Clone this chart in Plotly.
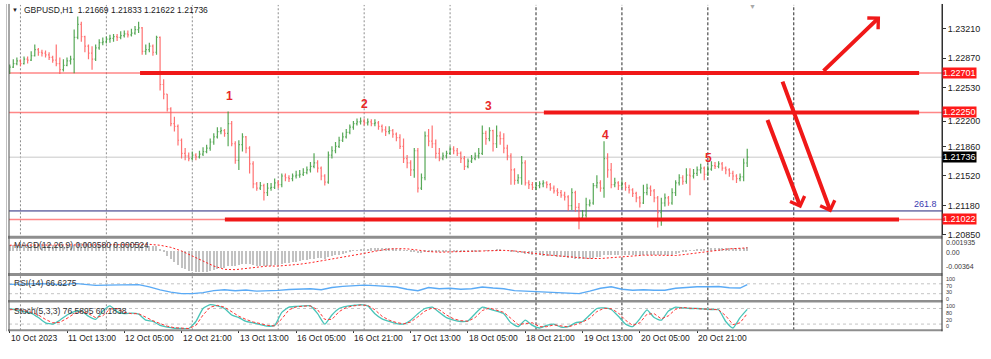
import plotly.graph_objects as go

W, H = 991, 359

# ---------------- data ----------------
first_open = 1.2272
closes = [
 1.2277, 1.2281, 1.2284, 1.2281, 1.2286, 1.2285, 1.2290, 1.2297, 1.2294, 1.2293,
 1.2291, 1.2288, 1.2285, 1.2281, 1.2274, 1.2279, 1.2284, 1.2286, 1.2311, 1.2326,
 1.2312, 1.2301, 1.2293, 1.2286, 1.2299, 1.2305, 1.2306, 1.2309, 1.2310, 1.2312,
 1.2311, 1.2313, 1.2315, 1.2314, 1.2316, 1.2320, 1.2322, 1.2295, 1.2297, 1.2301,
 1.2294, 1.2311, 1.2257, 1.2246, 1.2229, 1.2212, 1.2209, 1.2193, 1.2178, 1.2175,
 1.2172, 1.2176, 1.2174, 1.2177, 1.2180, 1.2184, 1.2191, 1.2197, 1.2203, 1.2204,
 1.2201, 1.2212, 1.2189, 1.2170, 1.2188, 1.2197, 1.2184, 1.2166, 1.2143, 1.2138,
 1.2141, 1.2133, 1.2138, 1.2139, 1.2144, 1.2142, 1.2152, 1.2150, 1.2149, 1.2152,
 1.2153, 1.2154, 1.2156, 1.2159, 1.2163, 1.2167, 1.2161, 1.2152, 1.2145, 1.2176,
 1.2181, 1.2186, 1.2193, 1.2197, 1.2202, 1.2208, 1.2212, 1.2214, 1.2215, 1.2213,
 1.2214, 1.2212, 1.2213, 1.2209, 1.2205, 1.2203, 1.2204, 1.2200, 1.2196, 1.2186,
 1.2172, 1.2167, 1.2159, 1.2181, 1.2138, 1.2150, 1.2198, 1.2192, 1.2189, 1.2178,
 1.2172, 1.2175, 1.2178, 1.2183, 1.2181, 1.2178, 1.2172, 1.2163, 1.2169, 1.2172,
 1.2175, 1.2178, 1.2201, 1.2195, 1.2204, 1.2189, 1.2198, 1.2195, 1.2184, 1.2175,
 1.2159, 1.2147, 1.2150, 1.2167, 1.2144, 1.2142, 1.2139, 1.2141, 1.2143, 1.2144,
 1.2142, 1.2138, 1.2135, 1.2133, 1.2130, 1.2128, 1.2118, 1.2133, 1.2116, 1.2104,
 1.2107, 1.2119, 1.2121, 1.2141, 1.2144, 1.2138, 1.2172, 1.2159, 1.2142, 1.2144,
 1.2141, 1.2143, 1.2139, 1.2136, 1.2132, 1.2127, 1.2121, 1.2133, 1.2138, 1.2135,
 1.2127, 1.2110, 1.2121, 1.2127, 1.2121, 1.2133, 1.2144, 1.2150, 1.2146, 1.2153,
 1.2152, 1.2155, 1.2159, 1.2161, 1.2154, 1.2160, 1.2164, 1.2163, 1.2166, 1.2161,
 1.2159, 1.2155, 1.2152, 1.2149, 1.2151, 1.21669, 1.21736]
highs = [
 1.2280, 1.2286, 1.2288, 1.2286, 1.2289, 1.2289, 1.2295, 1.2303, 1.2299, 1.2297,
 1.2296, 1.2294, 1.2290, 1.2303, 1.2288, 1.2286, 1.2288, 1.2290, 1.2320, 1.2335,
 1.2329, 1.2313, 1.2303, 1.2301, 1.2303, 1.2309, 1.2311, 1.2312, 1.2314, 1.2315,
 1.2315, 1.2318, 1.2319, 1.2319, 1.2321, 1.2324, 1.2329, 1.2323, 1.2303, 1.2305,
 1.2303, 1.2313, 1.2312, 1.2263, 1.2246, 1.2231, 1.2220, 1.2211, 1.2195, 1.2184,
 1.2179, 1.2180, 1.2178, 1.2181, 1.2185, 1.2188, 1.2195, 1.2201, 1.2208, 1.2208,
 1.2206, 1.2226, 1.2215, 1.2192, 1.2193, 1.2201, 1.2198, 1.2186, 1.2169, 1.2145,
 1.2145, 1.2143, 1.2144, 1.2144, 1.2149, 1.2147, 1.2155, 1.2155, 1.2153, 1.2155,
 1.2158, 1.2159, 1.2161, 1.2163, 1.2168, 1.2178, 1.2170, 1.2163, 1.2154, 1.2180,
 1.2186, 1.2191, 1.2197, 1.2202, 1.2206, 1.2211, 1.2215, 1.2218, 1.2219, 1.2218,
 1.2218, 1.2217, 1.2217, 1.2215, 1.2211, 1.2209, 1.2209, 1.2206, 1.2202, 1.2200,
 1.2195, 1.2176, 1.2170, 1.2184, 1.2184, 1.2155, 1.2203, 1.2206, 1.2210, 1.2194,
 1.2184, 1.2179, 1.2181, 1.2186, 1.2186, 1.2184, 1.2180, 1.2175, 1.2172, 1.2176,
 1.2179, 1.2184, 1.2210, 1.2204, 1.2208, 1.2205, 1.2210, 1.2203, 1.2201, 1.2188,
 1.2178, 1.2161, 1.2154, 1.2175, 1.2170, 1.2147, 1.2145, 1.2145, 1.2146, 1.2147,
 1.2146, 1.2144, 1.2141, 1.2138, 1.2136, 1.2134, 1.2130, 1.2138, 1.2135, 1.2121,
 1.2113, 1.2127, 1.2125, 1.2144, 1.2153, 1.2147, 1.2192, 1.2178, 1.2167, 1.2150,
 1.2146, 1.2147, 1.2145, 1.2142, 1.2138, 1.2134, 1.2129, 1.2142, 1.2143, 1.2141,
 1.2137, 1.2129, 1.2127, 1.2132, 1.2129, 1.2138, 1.2147, 1.2154, 1.2153, 1.2161,
 1.2161, 1.2160, 1.2163, 1.2166, 1.2163, 1.2164, 1.2169, 1.2168, 1.2169, 1.2168,
 1.2163, 1.2161, 1.2158, 1.2154, 1.2155, 1.2172, 1.21833]
lows = [
 1.2269, 1.2276, 1.2279, 1.2278, 1.2280, 1.2281, 1.2284, 1.2289, 1.2290, 1.2289,
 1.2288, 1.2285, 1.2282, 1.2278, 1.2269, 1.2272, 1.2278, 1.2280, 1.2270, 1.2309,
 1.2306, 1.2294, 1.2286, 1.2274, 1.2284, 1.2297, 1.2302, 1.2304, 1.2305, 1.2306,
 1.2307, 1.2309, 1.2311, 1.2311, 1.2312, 1.2314, 1.2316, 1.2291, 1.2291, 1.2294,
 1.2290, 1.2291, 1.2250, 1.2240, 1.2226, 1.2209, 1.2203, 1.2187, 1.2172, 1.2170,
 1.2169, 1.2170, 1.2170, 1.2172, 1.2175, 1.2178, 1.2181, 1.2188, 1.2195, 1.2200,
 1.2197, 1.2186, 1.2186, 1.2166, 1.2159, 1.2180, 1.2178, 1.2155, 1.2138, 1.2135,
 1.2136, 1.2124, 1.2129, 1.2135, 1.2137, 1.2138, 1.2139, 1.2146, 1.2145, 1.2146,
 1.2149, 1.2150, 1.2152, 1.2154, 1.2156, 1.2161, 1.2156, 1.2147, 1.2141, 1.2143,
 1.2172, 1.2178, 1.2184, 1.2191, 1.2195, 1.2200, 1.2205, 1.2210, 1.2211, 1.2210,
 1.2210, 1.2209, 1.2209, 1.2205, 1.2202, 1.2198, 1.2200, 1.2196, 1.2192, 1.2183,
 1.2167, 1.2161, 1.2152, 1.2150, 1.2133, 1.2136, 1.2147, 1.2186, 1.2184, 1.2172,
 1.2169, 1.2170, 1.2172, 1.2176, 1.2177, 1.2175, 1.2167, 1.2159, 1.2161, 1.2167,
 1.2170, 1.2172, 1.2176, 1.2188, 1.2192, 1.2180, 1.2184, 1.2188, 1.2178, 1.2170,
 1.2142, 1.2142, 1.2143, 1.2142, 1.2141, 1.2137, 1.2136, 1.2136, 1.2138, 1.2139,
 1.2138, 1.2135, 1.2132, 1.2129, 1.2127, 1.2124, 1.2112, 1.2113, 1.2111, 1.2091,
 1.2102, 1.2104, 1.2117, 1.2119, 1.2138, 1.2134, 1.2127, 1.2150, 1.2138, 1.2139,
 1.2136, 1.2138, 1.2135, 1.2132, 1.2128, 1.2122, 1.2116, 1.2120, 1.2130, 1.2129,
 1.2122, 1.2093, 1.2095, 1.2117, 1.2118, 1.2119, 1.2129, 1.2141, 1.2142, 1.2143,
 1.2130, 1.2149, 1.2152, 1.2155, 1.2147, 1.2152, 1.2158, 1.2160, 1.2161, 1.2158,
 1.2154, 1.2151, 1.2147, 1.2144, 1.2146, 1.2146, 1.21622]
opens = [first_open] + closes[:-1]
bar_idx = list(range(len(closes)))

# MACD(12,26,9) main, in units of 1e-4
macd_main_e4 = [
 9, 9, 9.5, 9.5, 10, 10, 10.5, 11, 11, 11, 11, 10.5, 10, 9.5, 9, 8.5, 8.5, 8.5,
 10, 12, 12.5, 12, 11, 10, 10, 10, 10, 10, 10, 10.5, 10.5, 10.5, 11, 11, 11, 11.5, 12,
 10.5, 9, 8, 7, 7.5,
 3, -3, -9, -14, -19, -24, -28, -31, -33, -34.5, -35.5, -36, -36, -35.5,
 -34, -32.5, -31, -29.5, -28, -26,
 -25, -25, -24, -22.5, -22, -22.5, -24, -25, -25.5, -26, -26, -25.5, -24.5, -23.5,
 -22, -21, -20, -19, -18, -17, -16, -15, -14, -13, -12.5, -12.5, -13,
 -11, -9.5, -8, -6.5, -5, -3.5, -2, -0.5, 1, 2, 3, 3.5, 4, 4.5, 4.5, 4.5, 4.5, 4.5, 4, 3.5, 2.5, 1,
 -0.5, -2, -2, -3.5, -4, -2.5, -1.5, -1, -1, -1.5, -1.5, -1.5, -1, -1, -1, -1.5, -2, -2, -2,
 -1.5, -1.5, 0, 0.5, 1, 1, 1.5, 1.5, 1, 0,
 -1.5, -3, -4, -4, -5, -6, -7, -7.5, -8, -8.5, -8.5, -9, -9.5, -10, -10.5, -11, -12, -12, -13,
 -14, -14.5, -14, -13.5, -12, -11, -10.5,
 -8, -7, -7.5, -7, -7, -6.5, -6.5, -6.5, -7, -7.5, -8, -7.5, -7, -7, -7, -8, -8, -8, -8, -7,
 -5.5, -4, -3, -1.5, -0.5, 0.5, 1.5, 2.5, 3, 3.5, 4, 4.5, 5, 5, 5, 5, 4.5, 4, 4, 4.5, 5.8]
macd_signal_idx = list(range(0, 205, 3)) + [206]
macd_signal_e4 = [
 9.5, 9.5, 9.5, 10, 10.5, 10, 9.5, 10, 10.5, 10.5, 10.5, 10.5, 11, 11,
 9.5, 6, 0, -8, -17, -25, -30.5, -31, -29, -27, -25, -25, -24, -22, -19.5, -16.5,
 -14, -11, -7.5, -4, -0.5, 2.5, 4, 3.5, 1.5, -1, -2, -1.5, -1.5, -1.5, -1, 0, 1, 0,
 -2.5, -4.5, -6.5, -8, -9.5, -11, -12.5, -12.5, -11, -9, -7.5, -7, -7, -7.5, -7.5,
 -5.5, -3, -0.5, 2, 3.5, 4.5, 5.24]
macd_main = [v * 1e-4 for v in macd_main_e4]
macd_signal = [v * 1e-4 for v in macd_signal_e4]

# RSI(14), every 3rd bar
rsi_idx = list(range(0, 205, 3)) + [206]
rsi_vals = [
 68, 70, 72, 71, 69, 66, 72, 67, 64, 65,
 65, 66, 67, 58, 45, 36, 30, 30, 34, 42,
 46, 42, 45, 40, 41, 43, 47, 48, 50, 46,
 55, 60, 64, 65, 63, 60, 57, 48, 42, 55,
 50, 52, 48, 50, 57, 53, 50, 42, 40, 38,
 38, 36, 33, 30, 40, 52, 58, 48, 44, 46,
 44, 44, 52, 56, 58, 58, 59, 54, 53,
 66.63]

# Stochastic(5,3,3), every 2nd bar
stoch_idx = list(range(0, 207, 2))
stoch_main = [
 78, 75, 68, 62, 45, 25, 20, 35, 55, 68,
 70, 50, 38, 70, 90, 68, 60, 62, 58, 35,
 30, 15, 8, 4, 3, 3, 30, 80, 95, 90,
 80, 55, 45, 30, 25, 18, 12, 15, 65, 85,
 88, 90, 90, 60, 20, 55, 80, 88, 92, 95,
 90, 60, 40, 30, 22, 20, 35, 60, 80, 85,
 65, 45, 35, 30, 32, 60, 85, 78, 70, 60,
 25, 10, 35, 15, 5, 15, 20, 8, 10, 25,
 30, 55, 80, 82, 76, 50, 20, 10, 40, 75,
 45, 35, 70, 85, 82, 80, 80, 78, 76, 75,
 30, 5, 45, 76.59]
stoch_signal = [
 75, 77, 72, 66, 55, 38, 25, 27, 42, 60,
 68, 60, 45, 52, 78, 80, 65, 60, 60, 45,
 33, 22, 12, 6, 4, 3, 15, 55, 85, 92,
 85, 68, 50, 38, 28, 22, 15, 13, 40, 75,
 86, 89, 90, 75, 38, 38, 68, 84, 90, 93,
 92, 75, 50, 35, 26, 21, 28, 48, 70, 82,
 75, 55, 40, 33, 31, 45, 72, 82, 74, 65,
 42, 18, 22, 25, 10, 10, 17, 14, 9, 18,
 28, 42, 68, 81, 79, 63, 35, 15, 25, 58,
 60, 40, 52, 77, 84, 81, 80, 79, 77, 75,
 52, 18, 25, 60.18]

time_tick_idx = [0, 16, 32, 48, 64, 80, 96, 112, 128, 144, 160, 176, 192]
time_tick_text = ["10 Oct 2023", "11 Oct 13:00", "12 Oct 05:00", "12 Oct 21:00",
                  "13 Oct 13:00", "16 Oct 05:00", "16 Oct 21:00", "17 Oct 13:00",
                  "18 Oct 05:00", "18 Oct 21:00", "19 Oct 13:00", "20 Oct 05:00",
                  "20 Oct 21:00"]
day_sep_idx = [3, 27, 51, 75, 99, 123, 147, 171, 195, 219]

price_ticks = [1.2321, 1.2287, 1.2253, 1.2215, 1.2186, 1.2152, 1.2118, 1.2085]
price_tick_text = ["1.23210", "1.22870", "1.22530", "1.22200", "1.21860",
                   "1.21520", "1.21180", "1.20850"]

level_prices = [1.22701, 1.22250, 1.21022]
level_start_idx = [36.4, 149.2, 60.1]
level_end_idx = [254.0, 254.0, 248.4]
current_price = 1.21736
fib_price = 1.21119

box_prices = [1.22701, 1.22250, 1.21736, 1.21022]
box_texts = ["1.22701", "1.22250", "1.21736", "1.21022"]

arrow_tail_idx = [226.9, 215.7, 211.5]
arrow_tail_price = [1.2271, 1.2262, 1.2218]
arrow_head_idx = [243.1, 229.4, 221.0]
arrow_head_price = [1.2335, 1.2110, 1.2115]

wave_labels = ["1", "2", "3", "4", "5"]
wave_idx = [61.3, 99.0, 133.6, 166.3, 195.3]
wave_price = [1.2244, 1.2235, 1.2232, 1.2199, 1.2173]

# indicator scale labels (text, vertical pixel position)
macd_scale = [("0.001935", 245.5), ("0.00", 255.5), ("-0.00364", 270)]
rsi_scale = [("100", 282), ("70", 288.8), ("30", 295.6), ("0", 302.2)]
stoch_scale = [("100", 309.6), ("80", 316.4), ("20", 323.2), ("0", 330)]

# ---------------- layout helpers ----------------
def px(p):
    return p / W

def py(p):
    return 1 - p / H

FONT = "Liberation Sans"
RED = "#f01818"
x_dom = [px(9), px(942)]

fig = go.Figure()

fig.add_trace(go.Ohlc(
    x=bar_idx, open=opens, high=highs, low=lows, close=closes,
    xaxis="x", yaxis="y", tickwidth=0.3, opacity=0.85,
    increasing=dict(line=dict(color="#3a9a3a", width=1.2)),
    decreasing=dict(line=dict(color="#ff5a5a", width=1.2)),
    hoverinfo="skip"))

fig.add_trace(go.Bar(x=bar_idx, y=macd_main, xaxis="x", yaxis="y2", width=0.3,
                     marker=dict(color="#c2c2c2", line=dict(width=0))))
fig.add_trace(go.Scatter(x=macd_signal_idx, y=macd_signal, xaxis="x", yaxis="y2",
                         mode="lines", line=dict(color="#ff2020", width=1, dash="2px,2px")))
fig.add_trace(go.Scatter(x=rsi_idx, y=rsi_vals, xaxis="x", yaxis="y3", mode="lines",
                         line=dict(color="#5aaaf5", width=1.3)))
fig.add_trace(go.Scatter(x=stoch_idx, y=stoch_main, xaxis="x", yaxis="y4", mode="lines",
                         line=dict(color="#48c4b8", width=1.3, shape="spline", smoothing=0.5)))
fig.add_trace(go.Scatter(x=stoch_idx, y=stoch_signal, xaxis="x", yaxis="y4", mode="lines",
                         line=dict(color="#ff3535", width=1, dash="3px,2px")))

shapes = []
for k, xi in enumerate(day_sep_idx):
    dark = k >= 6
    shapes.append(dict(type="line", xref="x", yref="paper", x0=xi, x1=xi,
                       y0=py(334), y1=py(5), layer="below",
                       line=dict(color="#2a2a2a" if dark else "#8c8c8c", width=1,
                                 dash="3px,2px" if dark else "2px,2px")))
for lv in [70, 30]:
    shapes.append(dict(type="line", xref="paper", yref="y3", x0=x_dom[0], x1=x_dom[1],
                       y0=lv, y1=lv, layer="below",
                       line=dict(color="#c4c4c4", width=1, dash="3px,3px")))
for lv in [80, 20]:
    shapes.append(dict(type="line", xref="paper", yref="y4", x0=x_dom[0], x1=x_dom[1],
                       y0=lv, y1=lv, layer="below",
                       line=dict(color="#c4c4c4", width=1, dash="3px,3px")))
for lv in level_prices:
    shapes.append(dict(type="line", xref="paper", yref="y", x0=x_dom[0], x1=x_dom[1] + px(1),
                       y0=lv, y1=lv, layer="below",
                       line=dict(color="rgba(255,70,70,0.65)", width=1.5)))
shapes.append(dict(type="line", xref="paper", yref="y", x0=x_dom[0], x1=x_dom[1],
                   y0=current_price, y1=current_price, layer="below",
                   line=dict(color="#c8c8c8", width=1)))
shapes.append(dict(type="line", xref="paper", yref="y", x0=x_dom[0], x1=x_dom[1],
                   y0=fib_price, y1=fib_price, layer="below",
                   line=dict(color="#23237a", width=1)))
for lv, a, b in zip(level_prices, level_start_idx, level_end_idx):
    shapes.append(dict(type="line", xref="x", yref="y", x0=a, x1=b, y0=lv, y1=lv,
                       layer="above", line=dict(color=RED, width=4)))
for y0p, y1p in [(238.5, 241.5), (276.0, 279.0), (303.5, 306.0), (333.0, 335.0)]:
    shapes.append(dict(type="rect", xref="paper", yref="paper", x0=px(8), x1=px(942.5),
                       y0=py(y1p), y1=py(y0p), layer="above",
                       fillcolor="#8e8e8e", line=dict(width=0)))
shapes.append(dict(type="line", xref="paper", yref="paper", x0=px(6.5), x1=px(6.5),
                   y0=py(335), y1=py(4), line=dict(color="#c0c0c0", width=1)))
shapes.append(dict(type="line", xref="paper", yref="paper", x0=px(9), x1=px(9),
                   y0=py(335), y1=py(4), line=dict(color="#505050", width=1)))
shapes.append(dict(type="line", xref="paper", yref="paper", x0=px(942), x1=px(942),
                   y0=py(335), y1=py(4), line=dict(color="#303030", width=1)))

ann = []
for tx, ty, hx, hy in zip(arrow_tail_idx, arrow_tail_price, arrow_head_idx, arrow_head_price):
    ann.append(dict(x=hx, y=hy, ax=tx, ay=ty, xref="x", yref="y", axref="x", ayref="y",
                    text="", showarrow=True, arrowhead=4, arrowsize=0.75, arrowwidth=4,
                    arrowcolor=RED, standoff=0))
for t, xi, yv in zip(wave_labels, wave_idx, wave_price):
    ann.append(dict(x=xi, y=yv, xref="x", yref="y", xanchor="center", yanchor="middle",
                    text="<b>%s</b>" % t, showarrow=False,
                    font=dict(family=FONT, size=12, color="#e82828")))
for yv, t in zip(box_prices, box_texts):
    ann.append(dict(x=px(942), y=yv, xref="paper", yref="y", xanchor="left", yanchor="middle",
                    text=t, showarrow=False, bgcolor="#000000" if t == "1.21736" else "#ff1a1a",
                    borderpad=0, font=dict(family=FONT, size=9, color="white")))
ann.append(dict(x=px(939), y=fib_price, xref="paper", yref="y", xanchor="right",
                yanchor="bottom", text="261.8", showarrow=False,
                font=dict(family=FONT, size=9, color="#3a3ab0")))


def label(x, y, t, size=8.5, color="#333", xanchor="left"):
    ann.append(dict(x=x, y=y, xref="paper", yref="paper", xanchor=xanchor, yanchor="middle",
                    text=t, showarrow=False, font=dict(family=FONT, size=size, color=color)))


label(px(10), py(10), "\u25BC", size=6, color="#222")
label(px(22), py(10), "GBPUSD,H1  1.21669 1.21833 1.21622 1.21736", color="#1a1a1a")
label(px(752), py(7), "\u25BC", size=7, color="#a8a8a8", xanchor="center")
label(px(12), py(248), "MACD(12,26,9) 0.000580 0.000524")
label(px(12), py(286), "RSI(14) 66.6275")
label(px(12), py(314), "Stoch(5,3,3) 76.5895 60.1838")
for t, yp in macd_scale:
    label(px(944), py(yp), t, size=7, color="#3a3a3a")
for t, yp in rsi_scale + stoch_scale:
    label(px(944), py(yp), t, size=5.5, color="#3a3a3a")
for xi, t in zip(time_tick_idx, time_tick_text):
    ann.append(dict(x=xi, y=py(342), xref="x", yref="paper", xanchor="left", yanchor="middle",
                    xshift=-1, text=t, showarrow=False,
                    font=dict(family=FONT, size=8.5, color="#1a1a1a")))

fig.update_layout(
    width=W, height=H, margin=dict(l=0, r=0, t=0, b=0),
    paper_bgcolor="white", plot_bgcolor="white", showlegend=False,
    bargap=0,
    xaxis=dict(domain=x_dom, range=[-0.2, 260.4], anchor="y4", showgrid=False,
               zeroline=False, showline=False, ticks="outside", ticklen=3,
               tickcolor="#333", tickvals=time_tick_idx, showticklabels=False,
               rangeslider=dict(visible=False), fixedrange=True),
    yaxis=dict(domain=[py(238), py(4)], range=[1.20839, 1.23494], side="right",
               anchor="x", showgrid=False, zeroline=False, showline=True,
               linecolor="#303030", ticks="outside", ticklen=3, tickcolor="#333",
               tickvals=price_ticks, ticktext=price_tick_text,
               tickfont=dict(family=FONT, size=9, color="#222"), fixedrange=True),
    yaxis2=dict(domain=[py(276), py(242)], range=[-0.00364, 0.001935], anchor="x",
                showgrid=False, zeroline=False, showticklabels=False, fixedrange=True),
    yaxis3=dict(domain=[py(304.5), py(279.5)], range=[0, 100], anchor="x",
                showgrid=False, zeroline=False, showticklabels=False, fixedrange=True),
    yaxis4=dict(domain=[py(333), py(306.7)], range=[0, 100], anchor="x",
                showgrid=False, zeroline=False, showticklabels=False, fixedrange=True),
    shapes=shapes, annotations=ann,
)

fig.write_html("out.html", config={"displayModeBar": False},
               post_script="document.body.style.margin='0';document.body.style.overflow='hidden';")
